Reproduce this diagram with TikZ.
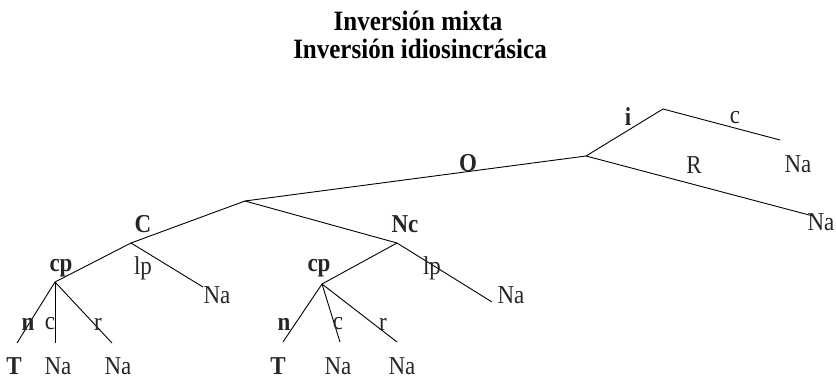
\documentclass[tikz,border=0pt]{standalone}
\usepackage{fontspec}
\setmainfont{Liberation Serif}
\newcommand\stretchy[1]{\scalebox{1}[1.12]{#1}}
\begin{document}
\begin{tikzpicture}[x=1pt,y=-1pt,
  edge/.style={draw=black,line width=0.9pt},
  lab/.style={font=\fontsize{23}{25}\selectfont,text=black!85,inner sep=0pt,anchor=center},
  blab/.style={lab,font=\fontsize{23}{25}\selectfont\bfseries},
  ttl/.style={font=\fontsize{25}{27}\selectfont\bfseries,inner sep=0pt,anchor=center}]
\useasboundingbox (0,0) rectangle (836,379);
\node[ttl] (t1) at (418,21) {\stretchy{Inversión mixta}};
\node[ttl] (t2) at (420,49) {\stretchy{Inversión idiosincrásica}};
% branch points
\coordinate (root) at (586,156);
\coordinate (itop) at (663,109);
\coordinate (cend) at (780,140);
\coordinate (rend) at (813,216);
\coordinate (x) at (245,201);
\coordinate (cn) at (131,243);
\coordinate (nc) at (397,243);
\coordinate (lpA) at (203,287);
\coordinate (lpB) at (492,302);
\coordinate (cpA) at (55,282);
\coordinate (cpB) at (322,284);
\coordinate (a1) at (17,343);
\coordinate (a2) at (55,343);
\coordinate (a3) at (112,343);
\coordinate (b1) at (283,342);
\coordinate (b2) at (340,342);
\coordinate (b3) at (397,342);
% edges
\draw[edge] (root) -- (itop) -- (cend);
\draw[edge] (root) -- (rend);
\draw[edge] (x) -- (root);
\draw[edge] (x) -- (cn);
\draw[edge] (x) -- (nc);
\draw[edge] (cn) -- (lpA);
\draw[edge] (cn) -- (cpA);
\draw[edge] (nc) -- (lpB);
\draw[edge] (nc) -- (cpB);
\draw[edge] (cpA) -- (a1);
\draw[edge] (cpA) -- (a2);
\draw[edge] (cpA) -- (a3);
\draw[edge] (cpB) -- (b1);
\draw[edge] (cpB) -- (b2);
\draw[edge] (cpB) -- (b3);
% labels
\node[blab] (li) at (628,117) {\stretchy{i}};
\node[lab] (lc) at (735,118) {\stretchy{c}};
\node[lab] (na1) at (798,164) {\stretchy{Na}};
\node[lab] (lR) at (694,165) {\stretchy{R}};
\node[lab] (na2) at (821,222) {\stretchy{Na}};
\node[blab] (lO) at (468,163) {\stretchy{O}};
\node[blab] (lC) at (143,224) {\stretchy{C}};
\node[blab] (lNc) at (405,224) {\stretchy{Nc}};
\node[blab] (lcpA) at (61,268) {\stretchy{cp}};
\node[lab] (llpA) at (143,268) {\stretchy{lp}};
\node[lab] (na3) at (217,295) {\stretchy{Na}};
\node[blab] (lcpB) at (319,268) {\stretchy{cp}};
\node[lab] (llpB) at (432,268) {\stretchy{lp}};
\node[lab] (na4) at (511,295) {\stretchy{Na}};
\node[blab] (lnA) at (28,324) {\stretchy{n}};
\node[lab] (lcA) at (50,324) {\stretchy{c}};
\node[lab] (lrA) at (98,324) {\stretchy{r}};
\node[blab] (lnB) at (284,324) {\stretchy{n}};
\node[lab] (lcB) at (338,324) {\stretchy{c}};
\node[lab] (lrB) at (383,324) {\stretchy{r}};
\node[blab] (tA) at (14,366) {\stretchy{T}};
\node[lab] (naA2) at (58,366) {\stretchy{Na}};
\node[lab] (naA3) at (118,366) {\stretchy{Na}};
\node[blab] (tB) at (278,366) {\stretchy{T}};
\node[lab] (naB2) at (338,366) {\stretchy{Na}};
\node[lab] (naB3) at (402,366) {\stretchy{Na}};
\end{tikzpicture}
\end{document}
